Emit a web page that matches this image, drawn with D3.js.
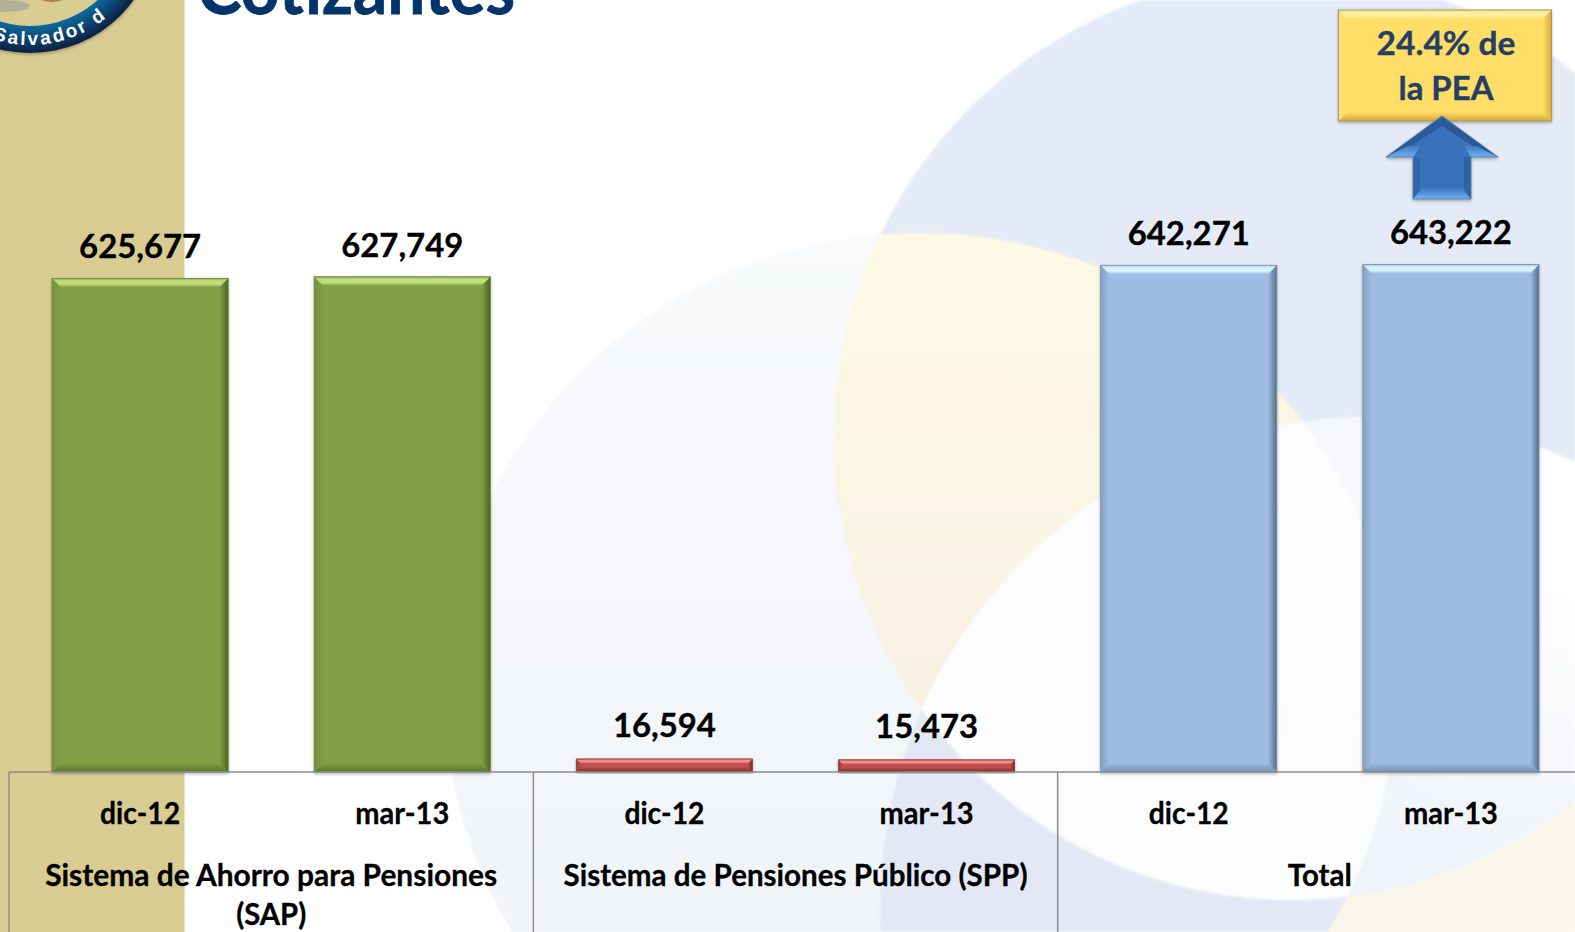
<!DOCTYPE html>
<html><head><meta charset="utf-8">
<script src="https://cdn.jsdelivr.net/npm/d3@7/dist/d3.min.js"></script>
<style>html,body{margin:0;padding:0;background:#fff;overflow:hidden}svg{display:block}text{font-family:Lato,"Open Sans",sans-serif;font-weight:700}</style>
</head><body><svg id="c" width="1575" height="932"></svg>
<script>
const periods=["dic-12","mar-13","dic-12","mar-13","dic-12","mar-13"];
const groups=["Sistema de Ahorro para Pensiones (SAP)","Sistema de Pensiones Público (SPP)","Total"];
const values=[625677,627749,16594,15473,642271,643222];
const seriesOf=[0,0,1,1,2,2];
const titleText="Cotizantes";
const calloutLines=["24.4% de","la PEA"];

const W=1575,H=932,base=772;
const svg=d3.select("#c"),defs=svg.append("defs");
const x=d3.scaleBand().domain(d3.range(6)).range([9,1582]).paddingInner(0.328).paddingOuter(0.164);
const y=d3.scaleLinear().domain([0,700000]).range([base,base-552.3]);
const gx=d3.scaleBand().domain(d3.range(3)).range([9,1582]);
const fmt=d3.format(",");

function grad(id,stops,x2=0,y2=1){const g=defs.append("linearGradient").attr("id",id).attr("x1",0).attr("y1",0).attr("x2",x2).attr("y2",y2);
 stops.forEach(s=>g.append("stop").attr("offset",s[0]).attr("stop-color",s[1]).attr("stop-opacity",s[2]===undefined?1:s[2]));}
grad("gP",[[0,"#fbfcfd"],[0.35,"#f7f9fb"],[1,"#f1f4f8"]]);
grad("gY",[[0,"#fffde6"],[0.5,"#faf6e4"],[1,"#f3ecdf"]]);
grad("gWB",[[0,"#fbfcfd"],[1,"#fdfdfe"]]);
grad("gWR",[[0.82,"#f2f6fb"],[0.95,"#ffffff"]],1,0);
grad("gWT",[[0.62,"#eef2f9",0],[0.95,"#eef2f9",1]]);
const blur=defs.append("filter").attr("id","soft").attr("x","-5%").attr("y","-5%").attr("width","110%").attr("height","110%");
blur.append("feGaussianBlur").attr("stdDeviation",1.3);
const sh=defs.append("filter").attr("id","shadow").attr("x","-10%").attr("y","-10%").attr("width","120%").attr("height","125%");
sh.append("feDropShadow").attr("dx",0).attr("dy",1.5).attr("stdDeviation",1.5).attr("flood-color","#000").attr("flood-opacity",0.3);
const clip=(id,cx,cy,rx,ry)=>defs.append("clipPath").attr("id",id).append("ellipse").attr("cx",cx).attr("cy",cy).attr("rx",rx).attr("ry",ry);
clip("cB",1292,437,458,463);clip("cP",920,695,475,462);clip("cW",1370,907,490,490);

// background shapes
svg.append("rect").attr("width",W).attr("height",H).attr("fill","#fff");
const bg=svg.append("g").attr("filter","url(#soft)");
const full=(g,f)=>g.append("rect").attr("width",W).attr("height",H).attr("fill",f);
const clipG=(p,id)=>p.append("g").attr("clip-path",`url(#${id})`);
full(clipG(bg,"cP"),"url(#gP)");
full(clipG(bg,"cB"),"#e4ebf6");
full(clipG(clipG(bg,"cB"),"cP"),"url(#gY)");
const wg=clipG(bg,"cW");
full(wg,"#f8f5ea");
full(clipG(wg,"cP"),"#e4e8f4");
const wb=clipG(wg,"cB");
full(wb,"url(#gWR)");
full(wb,"url(#gWT)");
full(clipG(clipG(wg,"cB"),"cP"),"url(#gWB)");
// left strip
svg.append("rect").attr("width",184.5).attr("height",H).attr("fill","#d9cc92");

// logo fragment
const logoG=defs.append("radialGradient").attr("id","gRing").attr("gradientUnits","userSpaceOnUse").attr("cx",30).attr("cy",-75).attr("r",128);
[[0.78,"#0e6c9e"],[0.88,"#0b4a7a"],[1,"#071f3f"]].forEach(s=>logoG.append("stop").attr("offset",s[0]).attr("stop-color",s[1]));
const logo=svg.append("g").attr("filter","url(#shadow)");
logo.append("circle").attr("cx",30).attr("cy",-75).attr("r",128).attr("fill","url(#gRing)");
logo.append("circle").attr("cx",30).attr("cy",-75).attr("r",101).attr("fill","#d9cc92");
svg.append("ellipse").attr("cx",52).attr("cy",-4).attr("rx",14).attr("ry",6).attr("fill","#a9834a");
svg.append("ellipse").attr("cx",5).attr("cy",6).attr("rx",25).attr("ry",6).attr("fill","#8f9a9c").attr("opacity",.55);
const arcR=120;
defs.append("path").attr("id","ringPath").attr("d",`M ${30-arcR} -75 A ${arcR} ${arcR} 0 0 0 ${30+arcR} -75`);
svg.append("text").attr("fill","#fff").style("font-family","'Liberation Sans',sans-serif").style("font-size","19px").style("letter-spacing","2.6px")
  .append("textPath").attr("href","#ringPath").attr("startOffset",150).text("Salvador d");

// title
svg.append("text").attr("x",197).attr("y",14).attr("fill","#00356b").style("font-size","72px").style("stroke","#00356b").style("stroke-width",".8px").attr("textLength",318).attr("lengthAdjust","spacingAndGlyphs").text(titleText);

// bevelled faces
const palette=[
 {id:"g",main:"#82a044",rim:"#8fa956",top:"#c2dd7c",left:"#788f3f",right:"#4c6425",bottom:"#5a752d",edge:"#6d8740"},
 {id:"r",main:"#c0504d",rim:"#b04a46",top:"#f2918b",left:"#963a37",right:"#742a27",bottom:"#722825",edge:"#8e4a48"},
 {id:"b",main:"#9fbde3",rim:"#a9c6e6",top:"#daf1fe",left:"#869fc2",right:"#556d8c",bottom:"#7590b3",edge:"#7b8fa8"},
 {id:"y",main:"#ffdd66",rim:"#f6dc7e",top:"#ffee9f",left:"#fbe27e",right:"#d9ae38",bottom:"#d2a93c",edge:"#a89a62"}];
palette.forEach(c=>{
 grad(c.id+"T",[[0,c.rim],[0.3,c.top],[0.65,c.top],[1,c.main]]);
 grad(c.id+"R",[[0,c.main],[1,c.right]],1,0);
 grad(c.id+"B",[[0,c.main],[1,c.bottom]]);
 grad(c.id+"L",[[0,c.left],[1,c.main]],1,0);
});
function bevelFaces(x0,y0,x1,y1,b,c){return [
 {p:[[x1,y0],[x1,y1],[x1-b,y1-b],[x1-b,y0+b]],f:`url(#${c.id}R)`},
 {p:[[x0,y1],[x0,y0],[x0+b,y0+b],[x0+b,y1-b]],f:`url(#${c.id}L)`},
 {p:[[x1,y1],[x0,y1],[x0+b,y1-b],[x1-b,y1-b]],f:`url(#${c.id}B)`},
 {p:[[x0,y0],[x1,y0],[x1-b,y0+b],[x0+b,y0+b]],f:`url(#${c.id}T)`}];}
const line=d3.line();
const marks=svg.append("g").selectAll("g").data(values).join("g").attr("filter","url(#shadow)");
marks.each(function(v,i){
 const g=d3.select(this),x0=x(i),x1=x0+x.bandwidth(),y0=y(v),y1=y(0),c=palette[seriesOf[i]],b=Math.min(9,(y1-y0)*0.36);
 g.append("rect").attr("x",x0).attr("y",y0).attr("width",x1-x0).attr("height",y1-y0).attr("fill",c.main);
 g.selectAll("path").data(bevelFaces(x0,y0,x1,y1,b,c)).join("path").attr("d",d=>line(d.p)+"Z").attr("fill",d=>d.f);
 g.append("rect").attr("x",x0).attr("y",y0).attr("width",x1-x0).attr("height",y1-y0).attr("fill","none").attr("stroke",c.edge).attr("stroke-width",.8);
});

// value labels
svg.append("g").selectAll("text").data(values).join("text")
 .attr("x",(d,i)=>x(i)+x.bandwidth()/2).attr("y",d=>y(d)-(d>100000?20:22)).attr("text-anchor","middle")
 .attr("fill","#000").style("stroke","#000").style("stroke-width",".35px").style("font-size","33px").attr("textLength",d=>d>100000?122:103).attr("lengthAdjust","spacingAndGlyphs").text(fmt);

// table frame
const rule="#8c8c8c";
svg.append("line").attr("x1",gx(0)).attr("x2",W).attr("y1",base).attr("y2",base).attr("stroke",rule).attr("stroke-width",1.5);
svg.append("g").selectAll("line").data(d3.range(3)).join("line")
 .attr("x1",d=>gx(d)).attr("x2",d=>gx(d)).attr("y1",base).attr("y2",H).attr("stroke",rule).attr("stroke-width",1.5);

// period axis
const axis=d3.axisBottom(x).tickSize(0).tickFormat(i=>periods[i]);
const ax=svg.append("g").attr("transform",`translate(0,${base})`).call(axis);
ax.select(".domain").remove();
ax.selectAll("text").attr("y",52).attr("dy",null).attr("fill","#000").style("stroke","#000").style("stroke-width",".3px").style("font-size","30px")
 .attr("textLength",(i)=>periods[i]==="dic-12"?80:94).attr("lengthAdjust","spacingAndGlyphs");

// group labels
const glines=[["Sistema de Ahorro para Pensiones","(SAP)"],["Sistema de Pensiones Público (SPP)"],["Total"]];
const gwidth=[[452,70],[464],[64]];
glines.forEach((ls,gi)=>ls.forEach((l,li)=>{
 svg.append("text").attr("x",gx(gi)+gx.bandwidth()/2).attr("y",886+li*39).attr("text-anchor","middle").attr("fill","#000").style("stroke","#000").style("stroke-width",".3px").style("font-size","30px")
  .attr("textLength",gwidth[gi][li]).attr("lengthAdjust","spacingAndGlyphs").text(l);
}));

// callout
const yc=palette[3];
const cg=svg.append("g").attr("filter","url(#shadow)");
cg.append("rect").attr("x",1338.5).attr("y",10).attr("width",213).attr("height",111).attr("fill",yc.main);
cg.selectAll("path").data(bevelFaces(1338.5,10,1551.5,121,9,yc)).join("path").attr("d",d=>line(d.p)+"Z").attr("fill",d=>d.f);
cg.append("rect").attr("x",1338.5).attr("y",10).attr("width",213).attr("height",111).attr("fill","none").attr("stroke",yc.edge);
svg.append("g").selectAll("text").data(calloutLines).join("text").attr("x",1446).attr("y",(d,i)=>55+i*44.5).attr("text-anchor","middle")
 .attr("fill","#243f63").style("stroke","#243f63").style("stroke-width",".35px").style("font-size","33px").attr("textLength",(d,i)=>i?95:139).attr("lengthAdjust","spacingAndGlyphs").text(d=>d);

// arrow
grad("aW",[[0,"#3f7cc4"],[1,"#6fb0f2"]]);
grad("aS",[[0,"#3a76bf"],[1,"#6fb0f2"]]);
const ag=svg.append("g").attr("filter","url(#shadow)");
const arrowFaces=[
 {p:[[1442,116],[1498,157],[1471,157],[1471,199],[1413,199],[1413,157],[1386,157]],f:"#3772ba"},
 {p:[[1442,116],[1386,157],[1408,148],[1442,126]],f:"#2c5d9c"},
 {p:[[1442,116],[1498,157],[1476,148],[1442,126]],f:"#2a5894"},
 {p:[[1386,157],[1413,157],[1420,146],[1408,146]],f:"url(#aW)"},
 {p:[[1498,157],[1471,157],[1464,146],[1476,146]],f:"url(#aW)"},
 {p:[[1413,199],[1471,199],[1462,188],[1422,188]],f:"url(#aS)"},
 {p:[[1471,157],[1471,199],[1464,190],[1464,157]],f:"#2f63a6"},
 {p:[[1413,157],[1413,199],[1420,190],[1420,157]],f:"#2f66aa"}];
ag.selectAll("path").data(arrowFaces).join("path").attr("d",d=>line(d.p)+"Z").attr("fill",d=>d.f);
ag.append("path").attr("d",line(arrowFaces[0].p)+"Z").attr("fill","none").attr("stroke","#5f7fa6").attr("stroke-width",1);
</script></body></html>
